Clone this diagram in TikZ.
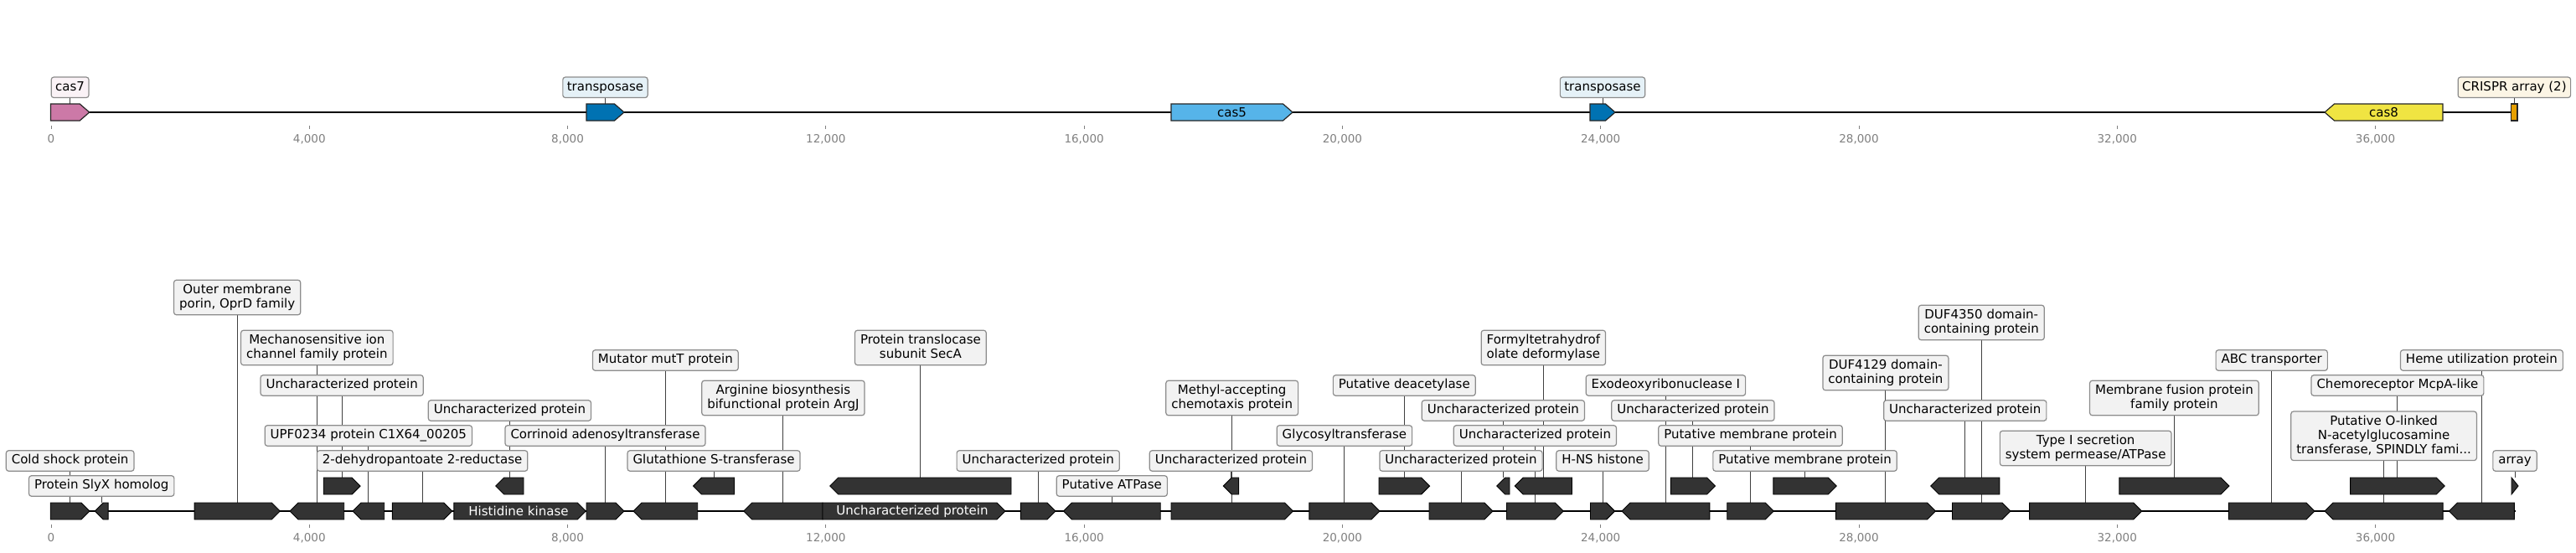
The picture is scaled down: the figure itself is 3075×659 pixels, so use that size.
\documentclass[tikz,border=0pt]{standalone}
\usepackage{fontspec}
\setmainfont{DejaVu Sans}
\pgfdeclarelayer{bg}\pgfdeclarelayer{axis}\pgfdeclarelayer{conn}\pgfdeclarelayer{feat}
\pgfsetlayers{bg,axis,conn,feat,main}
\definecolor{featgray}{HTML}{333333}
\definecolor{boxfill}{HTML}{F2F2F2}
\definecolor{boxedge}{HTML}{8C8C8C}
\definecolor{tickgray}{HTML}{808080}
\definecolor{cpink}{HTML}{CC79A7}
\definecolor{cdblue}{HTML}{0072B2}
\definecolor{csky}{HTML}{56B4E9}
\definecolor{cyel}{HTML}{F0E442}
\definecolor{corange}{HTML}{E69F00}
\newcommand{\lstrut}{\rule[-3.5pt]{0pt}{14.9pt}}
\newcommand{\gheadlen}{10}
\tikzset{
  lbl/.style={draw=boxedge, fill=boxfill, line width=1.2pt, rounded corners=3pt,
    inner xsep=6.5pt, inner ysep=4.8pt, align=center,
    font=\fontsize{15}{17}\selectfont,
    execute at begin node=\lstrut, execute at end node=\lstrut},
  tlbl/.style={lbl, inner xsep=5pt},
  inlbl/.style={inner sep=0pt, font=\fontsize{15}{17}\selectfont},
  gf/.style={fill=featgray, draw=black, line width=0.9pt, line join=miter},
  tf/.style={draw=black!85, line width=1.2pt, line join=miter},
  conn/.style={draw=black!75, line width=0.9pt},
  axisline/.style={draw=black, line width=2pt},
  tickmark/.style={draw=tickgray, line width=0.8pt},
  ticklbl/.style={text=tickgray, inner sep=0pt, font=\fontsize{13.5}{16}\selectfont}
}
% x1, x2, strand (1,-1,0), yc, style
\newcommand{\garrow}[5]{%
  \pgfmathsetmacro\ghd{min(\gheadlen,#2-#1)}%
  \ifnum#3=1
    \path[#5] (#1,#4-10) -- ({#2-\ghd},#4-10) -- (#2,#4) -- ({#2-\ghd},#4+10) -- (#1,#4+10) -- cycle;
  \else\ifnum#3=-1
    \path[#5] (#1,#4) -- ({#1+\ghd},#4-10) -- (#2,#4-10) -- (#2,#4+10) -- ({#1+\ghd},#4+10) -- cycle;
  \else
    \path[#5] (#1,#4-10) rectangle (#2,#4+10);
  \fi\fi}
% name, x1, x2, strand, row y, label, label y
\newcommand{\gene}[7]{%
  \begin{pgfonlayer}{feat}\garrow{#2}{#3}{#4}{#5}{gf}\end{pgfonlayer}
  \pgfmathsetmacro\gcx{(#2+#3)/2}
  \coordinate (f#1) at (\gcx,#5-10);
  \node[lbl] (l#1) at (\gcx,#7) {#6};
  \begin{pgfonlayer}{conn}\draw[conn] (l#1.south) -- (f#1);\end{pgfonlayer}}
% top track gene with box label: name,x1,x2,strand,color,label
\newcommand{\tgene}[6]{%
  \begin{pgfonlayer}{feat}\garrow{#2}{#3}{#4}{134}{tf, fill=#5}\end{pgfonlayer}
  \pgfmathsetmacro\gcx{(#2+#3)/2}
  \coordinate (f#1) at (\gcx,124);
  \node[tlbl, fill=#5!10] (l#1) at (\gcx,104.3) {#6};
  \begin{pgfonlayer}{conn}\draw[conn] (l#1.south) -- (f#1);\end{pgfonlayer}}
\begin{document}
\begin{tikzpicture}[x=1pt,y=-1pt]
\begin{pgfonlayer}{bg}
\fill[white] (0,0) rectangle (3075,659);
\end{pgfonlayer}
\useasboundingbox (0,0) rectangle (3075,659);
% axis lines
\coordinate (topL) at (61,134); \coordinate (topR) at (3005,134);
\coordinate (botL) at (61,610); \coordinate (botR) at (3003,610);
\begin{pgfonlayer}{axis}
\draw[axisline] (topL) -- (topR);
\draw[axisline] (botL) -- (botR);
\end{pgfonlayer}
% ticks
\foreach \i in {0,...,9}{
  \pgfmathsetmacro\tx{61+\i*308.28}
  \draw[tickmark] (\tx,149.5) -- (\tx,153.5);
  \draw[tickmark] (\tx,625.7) -- (\tx,629.5);
  \node[ticklbl] (tt\i) at (\tx,166) {\ifnum\i=0 0\else\the\numexpr\i*4\relax,000\fi};
  \node[ticklbl] (bt\i) at (\tx,642) {\ifnum\i=0 0\else\the\numexpr\i*4\relax,000\fi};
}
% top track
\renewcommand{\gheadlen}{11.5}
\tgene{Tcas7}{60.5}{106.7}{1}{cpink}{cas7}
\tgene{Ttr1}{700}{745}{1}{cdblue}{transposase}
\begin{pgfonlayer}{feat}\garrow{1398}{1543}{1}{134}{tf, fill=csky}\end{pgfonlayer}
\node[inlbl] (Tcas5) at (1470.5,134) {cas5};
\tgene{Ttr2}{1898}{1928}{1}{cdblue}{transposase}
\begin{pgfonlayer}{feat}\garrow{2775}{2916}{-1}{134}{tf, fill=cyel}\end{pgfonlayer}
\node[inlbl] (Tcas8) at (2845.5,134) {cas8};
\tgene{Tcr}{2997.7}{3005}{0}{corange}{CRISPR array (2)}
\renewcommand{\gheadlen}{10}
% main row
\gene{M1}{60.2}{107.1}{1}{610}{Cold shock protein}{550}
\gene{M2}{113.3}{129.1}{-1}{610}{Protein SlyX homolog}{580}
\gene{M3}{232.1}{334.2}{1}{610}{Outer membrane\\porin, OprD family}{355}
\gene{M4}{346}{410.7}{-1}{610}{Mechanosensitive ion\\channel family protein}{415}
\gene{M5}{421}{458.7}{-1}{610}{UPF0234 protein C1X64\_00205}{520}
\gene{M6}{468.4}{539.8}{1}{610}{2-dehydropantoate 2-reductase}{550}
\begin{pgfonlayer}{feat}\garrow{541.8}{699.3}{1}{610}{gf}\end{pgfonlayer}
\node[inlbl, text=white] (M7) at (619,610) {Histidine kinase};
\gene{M8}{700}{745}{1}{610}{Corrinoid adenosyltransferase}{520}
\gene{M9}{756}{832.7}{-1}{610}{Mutator mutT protein}{430}
\gene{M10}{887.8}{982}{-1}{610}{Arginine biosynthesis\\bifunctional protein ArgJ}{475}
\begin{pgfonlayer}{feat}\garrow{982}{1200}{1}{610}{gf}\end{pgfonlayer}
\node[inlbl, text=white] (M11) at (1089,610) {Uncharacterized protein};
\gene{M12}{1218.4}{1260}{1}{610}{Uncharacterized protein}{550}
\gene{M13}{1269.4}{1385.2}{-1}{610}{Putative ATPase}{580}
\gene{M14}{1398}{1543.4}{1}{610}{Methyl-accepting\\chemotaxis protein}{475}
\gene{M15}{1562.8}{1647}{1}{610}{Glycosyltransferase}{520}
\gene{M16}{1706}{1782}{1}{610}{Uncharacterized protein}{550}
\gene{M17}{1798.5}{1866.3}{1}{610}{Uncharacterized protein}{520}
\gene{M18}{1898.5}{1927.6}{1}{610}{H-NS histone}{550}
\gene{M19}{1936}{2040.8}{-1}{610}{Exodeoxyribonuclease I}{460}
\gene{M20}{2061.7}{2117.3}{1}{610}{Putative membrane protein}{520}
\gene{M21}{2191.3}{2310.5}{1}{610}{DUF4129 domain-\\containing protein}{445}
\gene{M22}{2330.5}{2400}{1}{610}{DUF4350 domain-\\containing protein}{385}
\gene{M23}{2422.6}{2556.7}{1}{610}{Type I secretion\\system permease/ATPase}{535}
\gene{M24}{2660.4}{2763}{1}{610}{ABC transporter}{430}
\gene{M25}{2775}{2916.1}{-1}{610}{Putative O-linked\\N-acetylglucosamine\\transferase, SPINDLY fami...}{520.3}
\gene{M26}{2923.5}{3001.3}{-1}{610}{Heme utilization protein}{430}
% second row
\gene{Ra}{386.2}{430.1}{1}{580}{Uncharacterized protein}{460}
\gene{Rb}{591.8}{625}{-1}{580}{Uncharacterized protein}{490}
\gene{Rc}{827.6}{876.5}{-1}{580}{Glutathione S-transferase}{550}
\gene{Rd}{990.8}{1207}{-1}{580}{Protein translocase\\subunit SecA}{415}
\gene{Re}{1460.2}{1478.6}{-1}{580}{Uncharacterized protein}{550}
\gene{Rf}{1646}{1706.6}{1}{580}{Putative deacetylase}{460}
\gene{Rg}{1786.7}{1802}{-1}{580}{Uncharacterized protein}{490}
\gene{Rh}{1808.2}{1876.5}{-1}{580}{Formyltetrahydrof\\olate deformylase}{415}
\gene{Ri}{1994.4}{2047.4}{1}{580}{Uncharacterized protein}{490}
\gene{Rj}{2116.8}{2192.3}{1}{580}{Putative membrane protein}{550}
\gene{Rk}{2304.7}{2386.8}{-1}{580}{Uncharacterized protein}{490}
\gene{Rl}{2529.9}{2660.9}{1}{580}{Membrane fusion protein\\family protein}{475}
\gene{Rm}{2805.6}{2918.2}{1}{580}{Chemoreceptor McpA-like}{460}
\gene{Rn}{2998}{3006}{1}{580}{array}{550}
\end{tikzpicture}
\end{document}
